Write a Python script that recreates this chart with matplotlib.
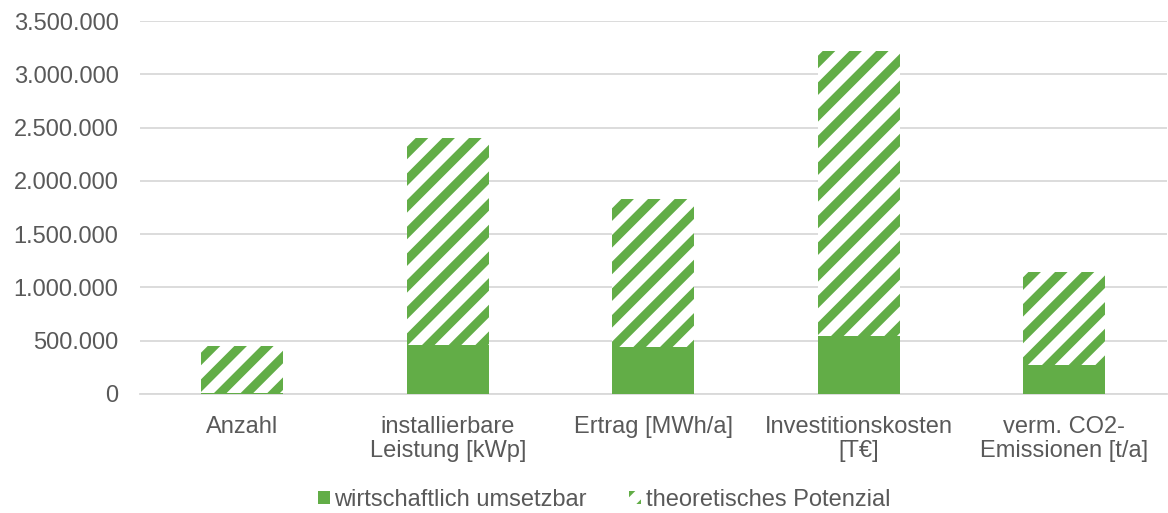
import matplotlib
matplotlib.use("Agg")
import matplotlib.pyplot as plt
from matplotlib.ticker import FuncFormatter

categories = ["Anzahl", "installierbare\nLeistung [kWp]", "Ertrag [MWh/a]",
              "Investitionskosten\n[T€]", "verm. CO2-\nEmissionen [t/a]"]
theoretisch = [450000, 2405000, 1834000, 3219000, 1142000]
wirtschaftlich = [5000, 460000, 440000, 540000, 270000]

green = "#62AD47"
grey = "#595959"

DPI = 160
k = 100 / DPI  # convert sizes designed at 100 dpi

plt.rcParams['font.family'] = ['Liberation Sans', 'DejaVu Sans']
plt.rcParams['hatch.linewidth'] = 4.0
plt.rcParams['hatch.color'] = green

fig = plt.figure(figsize=(1168 / DPI, 513 / DPI), dpi=DPI)
ax = fig.add_axes([139.5 / 1168, 1 - 394 / 513, (1167 - 139.5) / 1168, (394 - 21) / 513])

x = list(range(len(categories)))
w = 0.4
ax.bar(x, theoretisch, width=w, color="white", hatch="//", edgecolor=green,
       linewidth=0, label="theoretisches Potenzial", zorder=2)
ax.bar(x, wirtschaftlich, width=w, color=green, linewidth=0,
       label="wirtschaftlich umsetzbar", zorder=3)

fs = 17 * k
ax.set_ylim(0, 3500000)
ax.set_xlim(-0.5, len(categories) - 0.5)
ax.set_yticks(range(0, 3500001, 500000))
ax.yaxis.set_major_formatter(FuncFormatter(lambda v, p: f"{int(v):,}".replace(",", ".")))
ax.set_xticks(x)
ax.set_xticklabels(categories, linespacing=1.12)
ax.grid(axis="y", color="#D9D9D9", linewidth=1.3 * k, zorder=0)
ax.set_axisbelow(True)
for s in ["top", "right", "left"]:
    ax.spines[s].set_visible(False)
ax.spines["bottom"].set_color("#D9D9D9")
ax.spines["bottom"].set_linewidth(1.3 * k)
ax.tick_params(axis="both", length=0, colors=grey, labelsize=fs)
ax.tick_params(axis="y", pad=21 * 72 / DPI)
ax.tick_params(axis="x", pad=22 * 72 / DPI)

handles, labels = ax.get_legend_handles_labels()
leg = fig.legend(handles[::-1], labels[::-1], loc="center", bbox_to_anchor=(604 / 1168, 1 - 500 / 513),
                 ncol=2, frameon=False, fontsize=fs, handlelength=0.5, handleheight=0.5,
                 handletextpad=0.2, columnspacing=1.8)
for t in leg.get_texts():
    t.set_color(grey)

fig.savefig("out.png", dpi=DPI)
